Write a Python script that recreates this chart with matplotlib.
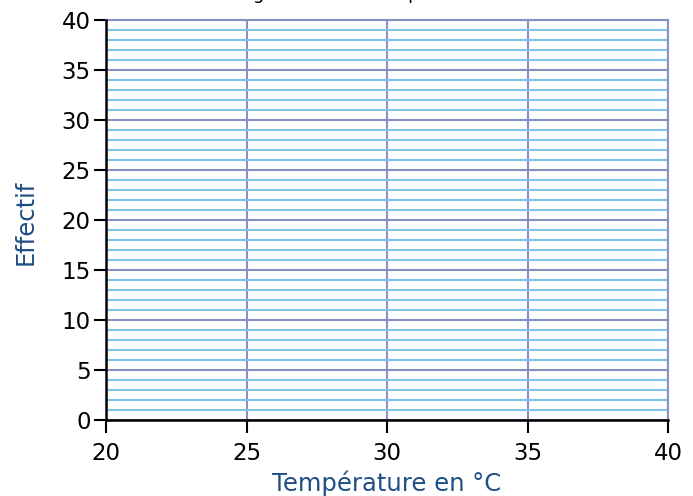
import numpy as np
import matplotlib
matplotlib.use("Agg")
import matplotlib.pyplot as plt
from matplotlib.ticker import MultipleLocator

# axis ranges and ticks
x_range = [20, 40]
y_range = [0, 40]
x_ticks = [20, 25, 30, 35, 40]
y_ticks = [0, 5, 10, 15, 20, 25, 30, 35, 40]
title = "Histogramme des températures relevées"
x_label = "Température en °C"
y_label = "Effectif"

major_col = "#8890c8"
minor_col = "#80c4ea"
label_col = "#1f4e86"

fig = plt.figure(figsize=(6.93, 4.96), dpi=100)
ax = fig.add_axes([106 / 693, 1 - 420 / 496, 562 / 693, 400 / 496])

ax.set_xlim(x_range)
ax.set_ylim(y_range)
ax.set_xticks(x_ticks)
ax.set_yticks(y_ticks)
ax.yaxis.set_minor_locator(MultipleLocator(1))

ax.grid(True, which="major", axis="both", color=major_col, linewidth=1.5)
ax.grid(True, which="minor", axis="y", color=minor_col, linewidth=1.5)
ax.set_axisbelow(True)

for s in ["top", "right"]:
    ax.spines[s].set_color(major_col)
    ax.spines[s].set_linewidth(1.5)
for s in ["left", "bottom"]:
    ax.spines[s].set_color("black")
    ax.spines[s].set_linewidth(1.8)
    ax.spines[s].set_zorder(5)

ax.tick_params(which="major", direction="out", length=9, width=1.5,
               labelsize=16.5)
ax.tick_params(axis="x", which="major", pad=7)
ax.tick_params(axis="y", which="major", pad=2)
ax.tick_params(which="minor", length=0)

ax.set_xlabel(x_label, fontsize=17.5, color=label_col)
ax.xaxis.set_label_coords(0.5, -0.125)
ax.set_ylabel(y_label, fontsize=17.5, color=label_col)
ax.yaxis.set_label_coords(-0.122, 0.495)
fig.text(392 / 693, 1 + 1 / 496, title, ha="center", va="baseline", fontsize=13)

fig.savefig("out.png", dpi=100)
